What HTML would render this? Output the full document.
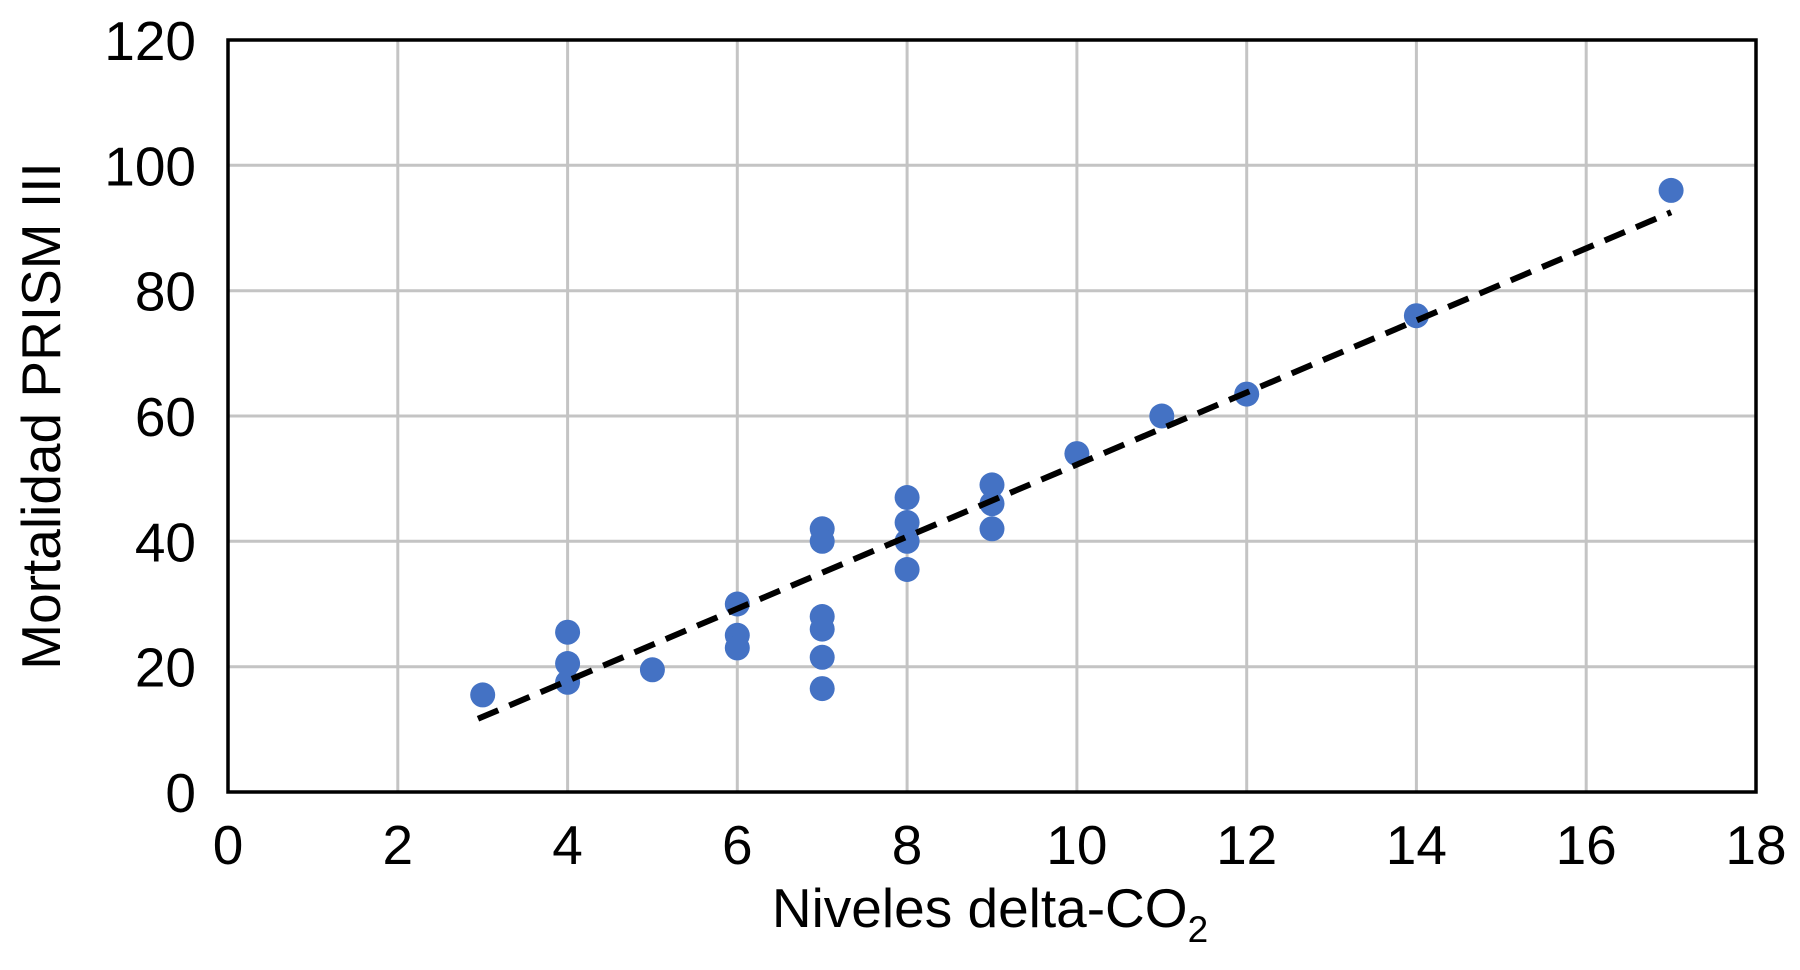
<!DOCTYPE html>
<html><head><meta charset="utf-8"><style>
html,body{margin:0;padding:0;background:#fff}
svg text{font-family:"Liberation Sans",Arial,sans-serif;fill:#000}
</style></head><body>
<svg width="1800" height="965" viewBox="0 0 1800 965" xmlns="http://www.w3.org/2000/svg">
<g stroke="#c4c4c4" stroke-width="3">
<line x1="397.8" y1="40" x2="397.8" y2="792"/>
<line x1="567.6" y1="40" x2="567.6" y2="792"/>
<line x1="737.3" y1="40" x2="737.3" y2="792"/>
<line x1="907.1" y1="40" x2="907.1" y2="792"/>
<line x1="1076.9" y1="40" x2="1076.9" y2="792"/>
<line x1="1246.7" y1="40" x2="1246.7" y2="792"/>
<line x1="1416.4" y1="40" x2="1416.4" y2="792"/>
<line x1="1586.2" y1="40" x2="1586.2" y2="792"/>
<line x1="228" y1="666.7" x2="1756" y2="666.7"/>
<line x1="228" y1="541.3" x2="1756" y2="541.3"/>
<line x1="228" y1="416" x2="1756" y2="416"/>
<line x1="228" y1="290.7" x2="1756" y2="290.7"/>
<line x1="228" y1="165.3" x2="1756" y2="165.3"/>
</g>
<rect x="228" y="40" width="1528" height="752" fill="none" stroke="#000" stroke-width="3.5"/>
<g font-size="55" text-anchor="middle">
<text x="228" y="864">0</text><text x="397.8" y="864">2</text><text x="567.6" y="864">4</text>
<text x="737.3" y="864">6</text><text x="907.1" y="864">8</text><text x="1076.9" y="864">10</text>
<text x="1246.7" y="864">12</text><text x="1416.4" y="864">14</text><text x="1586.2" y="864">16</text>
<text x="1756" y="864">18</text>
</g>
<g font-size="55" text-anchor="end">
<text x="196" y="812">0</text><text x="196" y="686.7">20</text><text x="196" y="561.3">40</text>
<text x="196" y="436">60</text><text x="196" y="310.7">80</text><text x="196" y="185.3">100</text>
<text x="196" y="60">120</text>
</g>
<g fill="#4472c4">
<circle cx="482.7" cy="694.9" r="12.5"/><circle cx="567.6" cy="632.2" r="12.5"/>
<circle cx="567.6" cy="663.5" r="12.5"/><circle cx="567.6" cy="682.3" r="12.5"/>
<circle cx="652.4" cy="669.8" r="12.5"/><circle cx="737.3" cy="604" r="12.5"/>
<circle cx="737.3" cy="635.3" r="12.5"/><circle cx="737.3" cy="647.9" r="12.5"/>
<circle cx="822.2" cy="528.8" r="12.5"/><circle cx="822.2" cy="541.3" r="12.5"/>
<circle cx="822.2" cy="616.5" r="12.5"/><circle cx="822.2" cy="629.1" r="12.5"/>
<circle cx="822.2" cy="657.3" r="12.5"/><circle cx="822.2" cy="688.6" r="12.5"/>
<circle cx="907.1" cy="497.5" r="12.5"/><circle cx="907.1" cy="522.5" r="12.5"/>
<circle cx="907.1" cy="541.3" r="12.5"/><circle cx="907.1" cy="569.5" r="12.5"/>
<circle cx="992" cy="484.9" r="12.5"/><circle cx="992" cy="503.7" r="12.5"/>
<circle cx="992" cy="528.8" r="12.5"/><circle cx="1076.9" cy="453.6" r="12.5"/>
<circle cx="1161.8" cy="416" r="12.5"/><circle cx="1246.7" cy="394.1" r="12.5"/>
<circle cx="1416.4" cy="315.7" r="12.5"/><circle cx="1671.1" cy="190.4" r="12.5"/>
</g>
<line x1="478" y1="718.8" x2="1671.1" y2="212.3" stroke="#000" stroke-width="6" stroke-dasharray="22,12"/>
<text x="990" y="927" font-size="55" text-anchor="middle">Niveles delta-CO<tspan font-size="37" dy="15">2</tspan></text>
<text transform="translate(60,416) rotate(-90)" font-size="55" text-anchor="middle">Mortalidad PRISM III</text>
</svg>
</body></html>
